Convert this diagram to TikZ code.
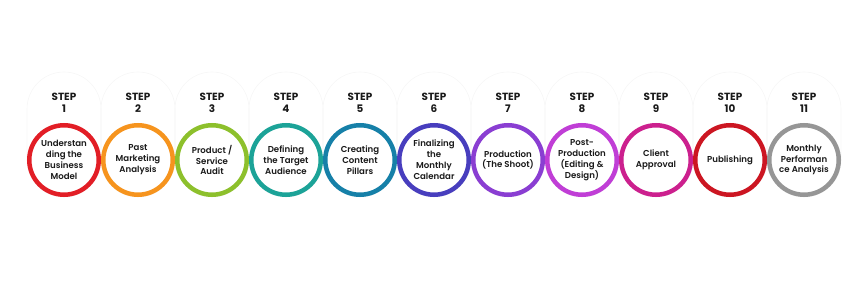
\documentclass[tikz,border=0pt]{standalone}
\usepackage{fontspec}
\setmainfont{Poppins}
\newfontfamily\medfont{Poppins SemiBold}
\usepackage{tikz}
\usetikzlibrary{positioning,backgrounds}
\definecolor{stepred}{RGB}{226,30,38}
\definecolor{steporange}{RGB}{246,148,30}
\definecolor{stepgreen}{RGB}{141,192,44}
\definecolor{stepteal}{RGB}{28,163,152}
\definecolor{stepcyan}{RGB}{22,128,168}
\definecolor{stepindigo}{RGB}{72,62,190}
\definecolor{steppurple}{RGB}{138,62,210}
\definecolor{stepviolet}{RGB}{192,62,214}
\definecolor{stepmagenta}{RGB}{204,32,142}
\definecolor{stepcrimson}{RGB}{204,22,34}
\definecolor{stepgray}{RGB}{150,150,150}
\definecolor{inktext}{RGB}{26,26,26}
\definecolor{pillline}{RGB}{246,246,246}

\begin{document}
\begin{tikzpicture}[
  x=1pt,y=-1pt,
  node distance=0pt,
  ring/.style={circle,draw=#1,line width=4.5pt,fill=white,minimum size=69.5pt,
    inner sep=0pt,align=center,text=inktext,
    font=\medfont\fontsize{8.6}{10.9}\selectfont},
  steplbl/.style={above=10pt of #1,align=center,inner sep=0pt,text=inktext,
    font=\bfseries\fontsize{10.4}{12.2}\selectfont},
  pill/.style={draw=pillline,line width=0.6pt,rounded corners=37pt,
    minimum width=74pt,minimum height=125pt,yshift=25.5pt}
]
\useasboundingbox (0,0) rectangle (866,288);
\node[ring=stepred] (s1) at (64,160) {Understan\\ding the\\Business\\Model};
\node[ring=steporange,right=of s1] (s2) {Past\\Marketing\\Analysis};
\node[ring=stepgreen,right=of s2] (s3) {Product /\\Service\\Audit};
\node[ring=stepteal,right=of s3] (s4) {Defining\\the Target\\Audience};
\node[ring=stepcyan,right=of s4] (s5) {Creating\\Content\\Pillars};
\node[ring=stepindigo,right=of s5] (s6) {Finalizing\\the\\Monthly\\Calendar};
\node[ring=steppurple,right=of s6] (s7) {Production\\(The Shoot)};
\node[ring=stepviolet,right=of s7] (s8) {Post-\\Production\\(Editing \&\\Design)};
\node[ring=stepmagenta,right=of s8] (s9) {Client\\Approval};
\node[ring=stepcrimson,right=of s9] (s10) {Publishing};
\node[ring=stepgray,right=of s10] (s11) {Monthly\\Performan\\ce Analysis};
% step labels
\node[steplbl=s1] (l1) {STEP\\1};
\node[steplbl=s2] (l2) {STEP\\2};
\node[steplbl=s3] (l3) {STEP\\3};
\node[steplbl=s4] (l4) {STEP\\4};
\node[steplbl=s5] (l5) {STEP\\5};
\node[steplbl=s6] (l6) {STEP\\6};
\node[steplbl=s7] (l7) {STEP\\7};
\node[steplbl=s8] (l8) {STEP\\8};
\node[steplbl=s9] (l9) {STEP\\9};
\node[steplbl=s10] (l10) {STEP\\10};
\node[steplbl=s11] (l11) {STEP\\11};
% faint pills behind
\begin{scope}[on background layer]
\node[pill] (p1) at (s1) {};
\node[pill] (p2) at (s2) {};
\node[pill] (p3) at (s3) {};
\node[pill] (p4) at (s4) {};
\node[pill] (p5) at (s5) {};
\node[pill] (p6) at (s6) {};
\node[pill] (p7) at (s7) {};
\node[pill] (p8) at (s8) {};
\node[pill] (p9) at (s9) {};
\node[pill] (p10) at (s10) {};
\node[pill] (p11) at (s11) {};
\end{scope}
\end{tikzpicture}
\end{document}
